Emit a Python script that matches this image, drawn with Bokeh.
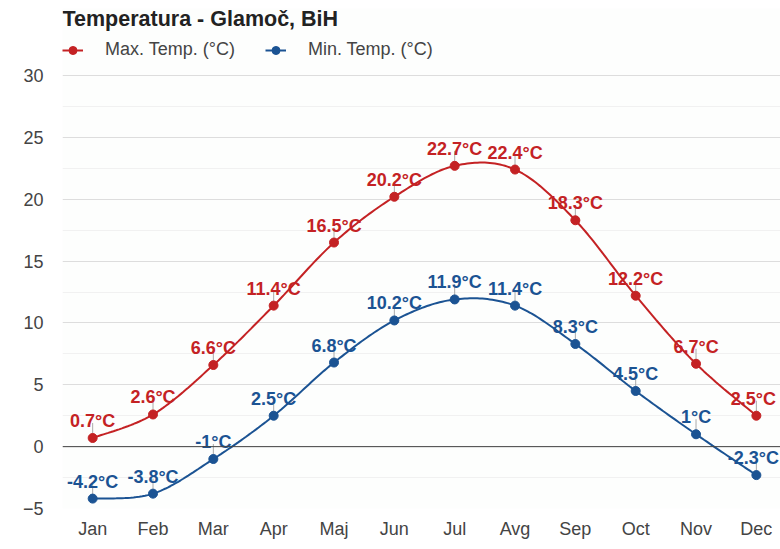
import numpy as np
from bokeh.plotting import figure
from bokeh.models import (ColumnDataSource, FixedTicker, Span, Legend, LegendItem, Range1d)
from bokeh.core.properties import value
from bokeh.embed import file_html
from bokeh.resources import INLINE

months = ["Jan", "Feb", "Mar", "Apr", "Maj", "Jun", "Jul", "Avg", "Sep", "Oct", "Nov", "Dec"]
max_temp = [0.7, 2.6, 6.6, 11.4, 16.5, 20.2, 22.7, 22.4, 18.3, 12.2, 6.7, 2.5]
min_temp = [-4.2, -3.8, -1.0, 2.5, 6.8, 10.2, 11.9, 11.4, 8.3, 4.5, 1.0, -2.3]
y_ticks = [-5, 0, 5, 10, 15, 20, 25, 30]

title_text = "Temperatura - Glamoč, BiH"
max_name = "Max. Temp. (°C)"
min_name = "Min. Temp. (°C)"
RED = "#c42224"
BLUE = "#1b5393"
FONT = "Liberation Sans"

FRAME_W, FRAME_H = 718, 500
Y_MIN, Y_MAX = -5, 35.42
X_MIN, X_MAX = -0.5, 11.4
ppu = FRAME_H / (Y_MAX - Y_MIN)

p = figure(frame_width=FRAME_W, frame_height=FRAME_H,
           min_border_left=62, min_border_right=0, min_border_top=8, min_border_bottom=41,
           x_range=Range1d(X_MIN, X_MAX), y_range=Range1d(Y_MIN, Y_MAX),
           output_backend="svg", toolbar_location=None)
p.outline_line_color = None
p.background_fill_color = "#fdfefd"
p.border_fill_color = "white"

xs = list(range(len(months)))

# axes
p.xaxis.ticker = FixedTicker(ticks=xs)
p.xaxis.major_label_overrides = {i: m for i, m in enumerate(months)}
p.yaxis.ticker = FixedTicker(ticks=y_ticks)
for ax in (p.xaxis[0], p.yaxis[0]):
    ax.axis_line_color = None
    ax.major_tick_line_color = None
    ax.minor_tick_line_color = None
    ax.major_tick_in = 0
    ax.major_tick_out = 0
    ax.major_label_text_font = FONT
    ax.major_label_text_font_size = "18px"
    ax.major_label_text_color = "#444444"
p.yaxis.major_label_standoff = 19
p.xaxis.major_label_standoff = 10

p.xgrid.grid_line_color = None
p.ygrid.ticker = FixedTicker(ticks=y_ticks, minor_ticks=[t + 2.5 for t in y_ticks[:-1]])
p.ygrid.grid_line_color = "#dddddd"
p.ygrid.grid_line_width = 1
p.ygrid.minor_grid_line_color = "#f1f1f1"

p.add_layout(Span(location=0, dimension="width", line_color="#444444", line_width=1))


def smooth_curve(ys, steps=24):
    """Sample a Catmull-Rom style cubic Bezier through the data points (drawing only)."""
    n = len(ys)
    cx, cy = [], []
    t = np.linspace(0, 1, steps, endpoint=False)
    for i in range(n - 1):
        pm = ys[i - 1] if i > 0 else ys[i]
        xm = i - 1 if i > 0 else i
        pp = ys[i + 2] if i + 2 < n else ys[i + 1]
        xp = i + 2 if i + 2 < n else i + 1
        P0 = np.array([i, ys[i]])
        P3 = np.array([i + 1, ys[i + 1]])
        P1 = P0 + np.array([(i + 1 - xm) / 6, (ys[i + 1] - pm) / 6])
        P2 = P3 - np.array([(xp - i) / 6, (pp - ys[i]) / 6])
        for tt in t:
            b = ((1 - tt) ** 3) * P0 + 3 * ((1 - tt) ** 2) * tt * P1 + 3 * (1 - tt) * tt ** 2 * P2 + tt ** 3 * P3
            cx.append(b[0]); cy.append(b[1])
    cx.append(n - 1); cy.append(ys[-1])
    return cx, cy


items = []
for vals, color, name in ((max_temp, RED, max_name), (min_temp, BLUE, min_name)):
    cx, cy = smooth_curve(vals)
    ln = p.line(x=cx, y=cy, line_color=color, line_width=2)
    offs = [0] * (len(vals) - 1) + [-3]
    src = ColumnDataSource(dict(x=xs, y=vals, top=[v + 15 / ppu for v in vals], xo=offs,
                                lab=[("%g" % v) + "°C" for v in vals]))
    p.segment(x0="x", y0="y", x1="x", y1="top", source=src, line_color="#aaaaaa", line_width=1)
    sc = p.scatter(x="x", y="y", source=src, size=9, fill_color=color, line_color=color)
    p.text(x="x", y="y", text="lab", source=src, text_color=color, text_font=value(FONT),
           text_font_style="bold", text_font_size="18px", text_align="center",
           text_baseline="alphabetic", y_offset=-17, x_offset="xo")
    items.append(LegendItem(label=name, renderers=[ln, sc]))

legend = Legend(items=items, orientation="horizontal", location=(0, 448),
                glyph_width=21, glyph_height=20, label_standoff=22, spacing=30,
                padding=0, margin=0, border_line_color=None, background_fill_alpha=0,
                label_text_font=FONT, label_text_font_size="18px", label_text_color="#444444")
p.add_layout(legend)

# title
p.text(x=[X_MIN], y=[30 + (75 - 18) / ppu], text=[title_text], text_font=value(FONT),
       text_font_style="bold", text_font_size="21.5px", text_color="#222222",
       text_baseline="middle", text_align="left")

open("out.html", "w").write(file_html(p, INLINE))
